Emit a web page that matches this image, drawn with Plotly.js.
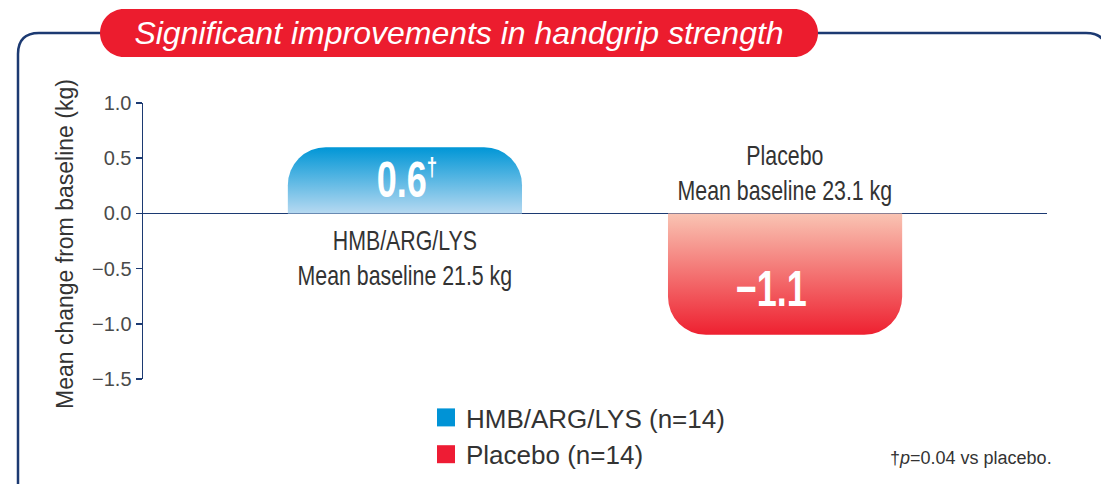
<!DOCTYPE html>
<html>
<head>
<meta charset="utf-8">
<script src="https://cdn.plot.ly/plotly-3.0.1.min.js"></script>
<style>
  html, body { margin: 0; padding: 0; background: #fff; }
  #chart { width: 1101px; height: 484px; }
</style>
</head>
<body>
<div id="chart"></div>
<script>
// Data
var groups = ['HMB/ARG/LYS', 'Placebo'];
var legendNames = ['HMB/ARG/LYS (n=14)', 'Placebo (n=14)'];
var meanChange = [0.6, -1.1];
var baselineKg = [21.5, 23.1];
var valueMarks = ['†', ''];
var yTicks = [-1.5, -1.0, -0.5, 0.0, 0.5, 1.0];
var yTitle = 'Mean change from baseline (kg)';

// Style
var FONT = '"Liberation Sans", Arial, Helvetica, sans-serif';
var navy = '#1c3a72';
var textGrey = '#333333';
var solidColors = ['#0093d6', '#ee1c34'];
var gradStops = [['#0096d6', '#b6d9f1'], ['#f9c4b3', '#ee2030']];

// pixel -> paper helpers (plot area 143..1047 x 103..379)
function px(x) { return (x - 143) / 904; }
function py(y) { return (379 - y) / 276; }

function roundRectPath(x0, y0, x1, y1, r) {
  var k = 0.5523 * r;
  var P = function (x, y) { return px(x) + ',' + py(y); };
  return 'M' + P(x0 + r, y0) + ' L' + P(x1 - r, y0) +
    ' C' + P(x1 - r + k, y0) + ' ' + P(x1, y0 + r - k) + ' ' + P(x1, y0 + r) +
    ' L' + P(x1, y1 - r) +
    ' C' + P(x1, y1 - r + k) + ' ' + P(x1 - r + k, y1) + ' ' + P(x1 - r, y1) +
    ' L' + P(x0 + r, y1) +
    ' C' + P(x0 + r - k, y1) + ' ' + P(x0, y1 - r + k) + ' ' + P(x0, y1 - r) +
    ' L' + P(x0, y0 + r) +
    ' C' + P(x0, y0 + r - k) + ' ' + P(x0 + r - k, y0) + ' ' + P(x0 + r, y0) + ' Z';
}

function framePath() {
  var P = function (x, y) { return px(x) + ',' + py(y); };
  return 'M' + P(18, 500) + ' L' + P(18, 54) +
    ' Q' + P(18, 33) + ' ' + P(39, 33) +
    ' L' + P(1086, 33) +
    ' Q' + P(1107, 33) + ' ' + P(1107, 54) +
    ' L' + P(1107, 500);
}

var data = groups.map(function (g, i) {
  return {
    type: 'bar',
    x: [g],
    y: [meanChange[i]],
    name: legendNames[i],
    width: 0.616,
    marker: { color: solidColors[i], cornerradius: 38, line: { width: 0 } },
    hoverinfo: 'skip'
  };
});

// annotations; condense[] holds horizontal squeeze per annotation (narrow type)
var annotations = [];
var condense = [];
groups.forEach(function (g, i) {
  var v = meanChange[i];
  var txt = (v < 0 ? '−' : '') + Math.abs(v).toFixed(1) +
    (valueMarks[i] ? '<sup><span style="font-size:26px">' + valueMarks[i] + '</span></sup>' : '');
  annotations.push({
    x: g, y: v > 0 ? v / 2 : v * 0.62, xref: 'x', yref: 'y',
    xshift: v < 0 ? -14 : 2,
    text: '<b>' + txt + '</b>', showarrow: false,
    font: { family: FONT, size: 50, color: '#ffffff' }
  });
  condense.push(0.72);
  annotations.push({
    x: g, y: v > 0 ? -0.405 : 0.364, xref: 'x', yref: 'y',
    text: g + '<br>Mean baseline ' + baselineKg[i].toFixed(1) + ' kg',
    showarrow: false, yanchor: 'middle',
    font: { family: FONT, size: 27, color: textGrey }
  });
  condense.push(0.79);
});
annotations.push({
  xref: 'paper', yref: 'paper', x: px(1054), y: py(458),
  xanchor: 'right', yanchor: 'middle', showarrow: false,
  text: '†<i>p</i>=0.04 vs placebo.',
  font: { family: FONT, size: 18, color: textGrey }
});
condense.push(1);
annotations.push({
  xref: 'paper', yref: 'paper', x: px(65), y: py(244),
  xanchor: 'center', yanchor: 'middle', showarrow: false, textangle: -90,
  text: yTitle,
  font: { family: FONT, size: 23, color: textGrey }
});
condense.push(1);

var layout = {
  width: 1101,
  height: 484,
  margin: { l: 143, r: 54, t: 103, b: 105, autoexpand: false },
  paper_bgcolor: '#ffffff',
  plot_bgcolor: '#ffffff',
  barmode: 'overlay',
  showlegend: true,
  title: {
    text: '<i>Significant improvements in handgrip strength</i>',
    font: { family: FONT, size: 32, color: '#ffffff' },
    xref: 'container', yref: 'container',
    x: 459 / 1101, y: 1 - 33 / 484, xanchor: 'center', yanchor: 'middle'
  },
  xaxis: {
    type: 'category',
    range: [-0.689, 1.689],
    visible: false,
    fixedrange: true
  },
  yaxis: {
    range: [-1.5, 1.0],
    tickvals: yTicks,
    tickformat: '.1f',
    ticks: 'outside',
    ticklen: 6,
    tickwidth: 1.5,
    tickcolor: navy,
    showline: true,
    linecolor: navy,
    linewidth: 1.5,
    showgrid: false,
    zeroline: true,
    zerolinecolor: navy,
    zerolinewidth: 1.5,
    tickfont: { family: FONT, size: 20, color: '#4a4a4a' },
    fixedrange: true
  },
  legend: {
    xref: 'container', yref: 'container',
    x: 426 / 1101, y: 1 - 394 / 484,
    xanchor: 'left', yanchor: 'top',
    font: { family: FONT, size: 26, color: textGrey },
    bgcolor: 'rgba(0,0,0,0)',
    traceorder: 'normal',
    itemclick: false, itemdoubleclick: false
  },
  shapes: [
    {
      type: 'path', xref: 'paper', yref: 'paper', layer: 'above',
      path: framePath(), line: { color: navy, width: 2.5 }
    },
    {
      type: 'path', xref: 'paper', yref: 'paper', layer: 'above',
      path: roundRectPath(100, 9, 818, 57, 24),
      fillcolor: '#ec1c2e', line: { width: 0 }
    }
  ],
  annotations: annotations
};

Plotly.newPlot('chart', data, layout, { staticPlot: true, displayModeBar: false }).then(function (gd) {
  // gradients for bars
  var svg = gd.querySelector('.main-svg');
  var defs = svg.querySelector('defs');
  var NS = 'http://www.w3.org/2000/svg';
  gradStops.forEach(function (stops, i) {
    var lg = document.createElementNS(NS, 'linearGradient');
    lg.setAttribute('id', 'barGrad' + i);
    lg.setAttribute('x1', '0'); lg.setAttribute('y1', '0');
    lg.setAttribute('x2', '0'); lg.setAttribute('y2', '1');
    stops.forEach(function (c, j) {
      var s = document.createElementNS(NS, 'stop');
      s.setAttribute('offset', j === 0 ? '0' : '1');
      s.setAttribute('stop-color', c);
      lg.appendChild(s);
    });
    defs.appendChild(lg);
  });
  gd.querySelectorAll('.barlayer .trace').forEach(function (t, i) {
    var p = t.querySelector('path');
    if (p) p.style.fill = 'url(#barGrad' + i + ')';
  });

  // bigger legend squares
  gd.querySelectorAll('.legend .legendpoints path').forEach(function (p) {
    p.setAttribute('d', 'M9,9H-9V-9H9Z');
  });

  // squeeze narrow-type annotations around their centre
  gd.querySelectorAll('.annotation').forEach(function (a) {
    var idx = +a.getAttribute('data-index');
    var s = condense[idx];
    if (!s || s === 1) return;
    var t = a.querySelector('text');
    var bb = t.getBBox();
    var cx = bb.x + bb.width / 2;
    var orig = t.getAttribute('transform') || '';
    t.setAttribute('transform', orig + ' translate(' + cx + ',0) scale(' + s + ',1) translate(' + (-cx) + ',0)');
  });
});
</script>
</body>
</html>
